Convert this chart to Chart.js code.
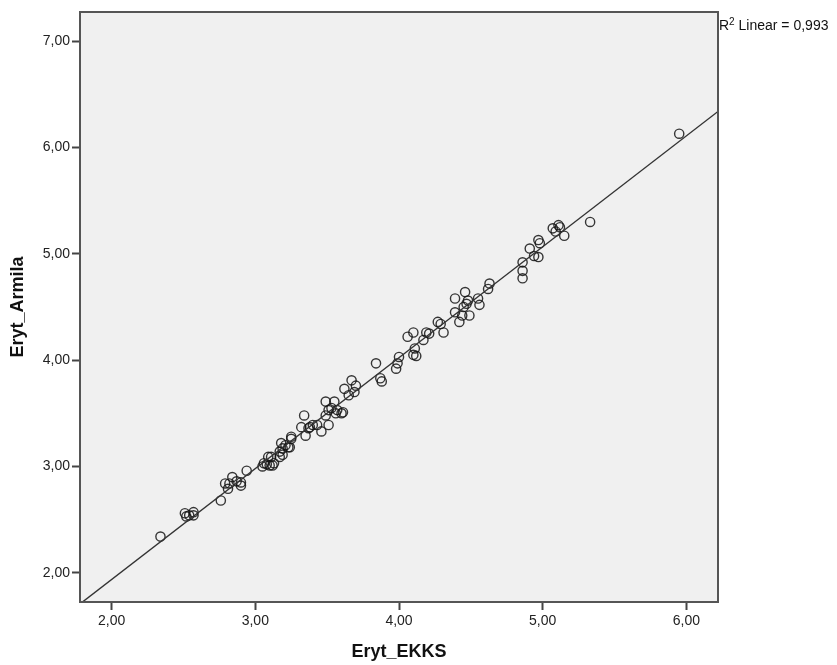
<!DOCTYPE html>
<html>
<head>
<meta charset="utf-8">
<script src="https://cdn.jsdelivr.net/npm/chart.js@4.4.1/dist/chart.umd.min.js"></script>
<style>
  html, body { margin: 0; padding: 0; background: #fff; }
  #wrap { width: 837px; height: 665px; }
</style>
</head>
<body>
<div id="wrap"><canvas id="grafik"></canvas></div>
<script>
// Eryt_EKKS (x) dan Eryt_Armila (y)
const ekks = [
  2.34, 2.51, 2.52, 2.54, 2.57, 2.57, 2.76, 2.79, 2.81, 2.82,
  2.84, 2.87, 2.90, 2.90, 2.94, 3.05, 3.06, 3.08, 3.09, 3.10,
  3.12, 3.13, 3.11, 3.17, 3.17, 3.18, 3.19, 3.19, 3.21, 3.23,
  3.24, 3.25, 3.25, 3.32, 3.34, 3.35, 3.37, 3.38, 3.40, 3.43,
  3.46, 3.49, 3.51, 3.49, 3.51, 3.53, 3.55, 3.56, 3.57, 3.60,
  3.61, 3.62, 3.65, 3.67, 3.69, 3.70, 3.84, 3.87, 3.88, 3.98,
  3.99, 4.00, 4.06, 4.10, 4.10, 4.11, 4.12, 4.17, 4.19, 4.21,
  4.27, 4.29, 4.31, 4.39, 4.39, 4.42, 4.44, 4.45, 4.46, 4.47,
  4.48, 4.49, 4.55, 4.56, 4.62, 4.63, 4.86, 4.86, 4.86, 4.91,
  4.94, 4.97, 4.97, 4.98, 5.07, 5.09, 5.11, 5.12, 5.15, 5.33,
  5.95
];
const armila = [
  2.34, 2.56, 2.53, 2.54, 2.57, 2.54, 2.68, 2.84, 2.79, 2.84,
  2.90, 2.86, 2.82, 2.85, 2.96, 3.00, 3.03, 3.02, 3.09, 3.01,
  3.01, 3.03, 3.09, 3.09, 3.14, 3.22, 3.11, 3.17, 3.20, 3.18,
  3.18, 3.26, 3.28, 3.37, 3.48, 3.29, 3.36, 3.37, 3.39, 3.39,
  3.33, 3.48, 3.39, 3.61, 3.53, 3.55, 3.61, 3.50, 3.53, 3.50,
  3.51, 3.73, 3.67, 3.81, 3.70, 3.76, 3.97, 3.83, 3.80, 3.92,
  3.97, 4.03, 4.22, 4.26, 4.05, 4.11, 4.04, 4.19, 4.26, 4.25,
  4.36, 4.34, 4.26, 4.45, 4.58, 4.36, 4.42, 4.50, 4.64, 4.53,
  4.56, 4.42, 4.58, 4.52, 4.67, 4.72, 4.77, 4.84, 4.92, 5.05,
  4.98, 4.97, 5.13, 5.10, 5.24, 5.21, 5.27, 5.25, 5.17, 5.30,
  6.13
];
const xTicks = [2, 3, 4, 5, 6];
const yTicks = [2, 3, 4, 5, 6, 7];
const xRange = [1.78, 6.22];
const yRange = [1.725, 7.275];
const r2Text = "0,993";

// garis regresi linier (kuadrat terkecil)
const n = ekks.length;
const mx = ekks.reduce((a, b) => a + b, 0) / n;
const my = armila.reduce((a, b) => a + b, 0) / n;
let sxy = 0, sxx = 0;
for (let i = 0; i < n; i++) {
  sxy += (ekks[i] - mx) * (armila[i] - my);
  sxx += (ekks[i] - mx) * (ekks[i] - mx);
}
const slope = sxy / sxx;
const intercept = my - slope * mx;
const fitLine = xRange.map((x) => ({ x: x, y: intercept + slope * x }));

const fmt = (v) => v.toFixed(2).replace(".", ",");

// latar abu-abu, bingkai dan label R2
const plotBox = {
  id: "plotBox",
  beforeDraw(chart) {
    const { ctx, chartArea: a } = chart;
    ctx.save();
    ctx.fillStyle = "#f0f0f0";
    ctx.fillRect(a.left, a.top, a.right - a.left, a.bottom - a.top);
    ctx.restore();
  },
  afterDraw(chart) {
    const { ctx, chartArea: a } = chart;
    ctx.save();
    ctx.strokeStyle = "#555";
    ctx.lineWidth = 2;
    ctx.strokeRect(a.left, a.top, a.right - a.left, a.bottom - a.top);
    // R² Linear
    ctx.fillStyle = "#111";
    ctx.textBaseline = "alphabetic";
    let x = a.right + 1;
    const y = a.top + 18;
    ctx.font = "14px 'Liberation Sans', Arial, sans-serif";
    ctx.fillText("R", x, y);
    x += ctx.measureText("R").width;
    ctx.font = "10px 'Liberation Sans', Arial, sans-serif";
    ctx.fillText("2", x, y - 5);
    x += ctx.measureText("2").width;
    ctx.font = "14px 'Liberation Sans', Arial, sans-serif";
    ctx.fillText(" Linear = " + r2Text, x, y);
    ctx.restore();
  },
};

const axisFont = { family: "'Liberation Sans', Arial, sans-serif", size: 14 };
const titleFont = { family: "'Liberation Sans', Arial, sans-serif", size: 18, weight: "bold" };

new Chart(document.getElementById("grafik").getContext("2d"), {
  type: "scatter",
  data: {
    datasets: [
      {
        label: "Eryt",
        data: ekks.map((x, i) => ({ x: x, y: armila[i] })),
        pointRadius: 4.6,
        pointHoverRadius: 4.6,
        borderWidth: 1.4,
        borderColor: "rgba(20,20,20,0.85)",
        backgroundColor: "rgba(0,0,0,0)",
        order: 2,
      },
      {
        type: "line",
        label: "Linear",
        data: fitLine,
        borderColor: "#333",
        borderWidth: 1.4,
        pointRadius: 0,
        fill: false,
        order: 1,
      },
    ],
  },
  options: {
    responsive: true,
    maintainAspectRatio: false,
    animation: false,
    layout: { padding: { top: 12, right: 119, bottom: 0, left: 0 } },
    plugins: {
      legend: { display: false },
      tooltip: { enabled: false },
    },
    scales: {
      x: {
        type: "linear",
        min: xRange[0],
        max: xRange[1],
        afterBuildTicks: (s) => { s.ticks = xTicks.map((v) => ({ value: v })); },
        afterFit: (s) => { s.height = 63; },
        border: { display: false },
        grid: { drawOnChartArea: false, drawTicks: true, tickLength: 8, tickColor: "#444", tickWidth: 2 },
        ticks: { color: "#222", font: axisFont, padding: 3, callback: (v) => fmt(v) },
        title: { display: true, text: "Eryt_EKKS", color: "#111", font: titleFont, padding: { top: 0, bottom: 2 } },
      },
      y: {
        type: "linear",
        min: yRange[0],
        max: yRange[1],
        afterBuildTicks: (s) => { s.ticks = yTicks.map((v) => ({ value: v })); },
        afterFit: (s) => { s.width = 80; },
        border: { display: false },
        grid: { drawOnChartArea: false, drawTicks: true, tickLength: 8, tickColor: "#444", tickWidth: 2 },
        ticks: { color: "#222", font: axisFont, padding: 2, callback: (v) => fmt(v) },
        title: { display: true, text: "Eryt_Armila", color: "#111", font: titleFont, padding: { top: 7, bottom: 0 } },
      },
    },
  },
  plugins: [plotBox],
});
</script>
</body>
</html>
